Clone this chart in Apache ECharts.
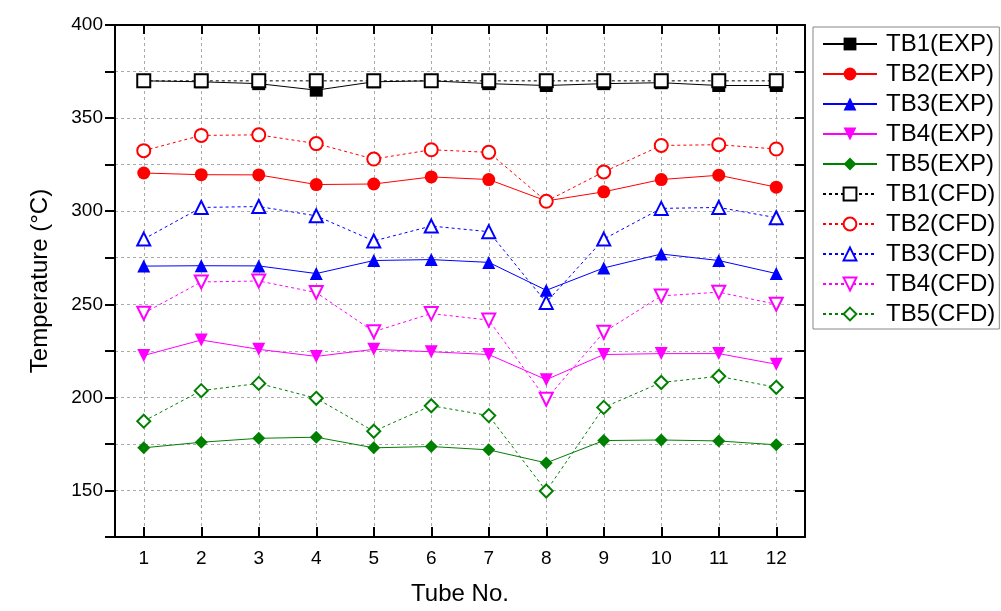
<!DOCTYPE html>
<html>
<head>
<meta charset="utf-8">
<title>Tube temperature</title>
<script src="https://cdn.jsdelivr.net/npm/echarts@6/dist/echarts.min.js"></script>
<style>
  html, body { margin: 0; padding: 0; background: #fff; }
  #chart { width: 1001px; height: 611px; }
</style>
</head>
<body>
<div id="chart"></div>
<script>
// tube numbers on the x axis
const tubes = [1, 2, 3, 4, 5, 6, 7, 8, 9, 10, 11, 12]
const yTicks = [150, 200, 250, 300, 350, 400]

// measured (EXP)
const tb1Exp = [370, 369.5, 368.5, 365, 369.5, 370, 368.5, 367.5, 368.5, 369, 367.5, 367.5]
const tb2Exp = [320.5, 319.6, 319.5, 314.3, 314.6, 318.4, 317, 305.5, 310.4, 317, 319.3, 312.9]
const tb3Exp = [270.5, 270.7, 270.6, 266.5, 273.5, 274, 272.5, 257.5, 269.5, 277, 273.5, 266.5]
const tb4Exp = [222.5, 230.8, 225.8, 222, 225.8, 224.5, 223, 209.5, 223, 223.5, 223.5, 217.8]
const tb5Exp = [172.9, 175.9, 178, 178.6, 172.9, 173.6, 171.8, 164.8, 176.8, 177.1, 176.6, 174.5]

// simulated (CFD)
const tb1Cfd = [370, 370, 370, 370, 370, 370, 370, 370, 370, 370, 370, 370]
const tb2Cfd = [332.5, 340.7, 341, 336.3, 328, 333, 331.6, 305.3, 321.1, 335.3, 335.7, 333.4]
const tb3Cfd = [285, 302, 302.5, 297.5, 284, 292, 289, 251, 285, 301.5, 302, 296.5]
const tb4Cfd = [245.2, 262, 262.5, 256.3, 235.3, 245, 241.5, 199, 235, 254.5, 256.5, 250]
const tb5Cfd = [187.2, 203.6, 207.5, 199.5, 181.8, 195.5, 190.2, 149.7, 194.6, 208, 211.3, 205.4]

const font = 'Arial, "Liberation Sans", sans-serif'

function pairs(vals) {
  return tubes.map((t, i) => [t, vals[i]])
}

function expSeries(name, vals, color, symbol, rotate) {
  return {
    name: name,
    type: 'line',
    data: pairs(vals),
    symbol: symbol,
    symbolSize: 13,
    symbolRotate: rotate || 0,
    itemStyle: { color: color },
    lineStyle: { color: color, width: 1 },
    emphasis: { disabled: true },
  }
}

function cfdSeries(name, vals, color, symbol, rotate) {
  return {
    name: name,
    type: 'line',
    data: pairs(vals),
    symbol: symbol,
    symbolSize: 13,
    symbolRotate: rotate || 0,
    itemStyle: { color: color, borderWidth: 1.2 },
    lineStyle: { color: color, width: 1, type: [3, 3] },
    emphasis: { disabled: true },
  }
}

const chart = echarts.init(document.getElementById('chart'))

const option = {
  backgroundColor: '#fff',
  animation: false,
  grid: { left: 115, top: 25, right: 196, bottom: 73 },
  legend: {
    orient: 'vertical',
    left: 813,
    top: 27,
    padding: [5, 4, 3, 9],
    itemGap: 6,
    itemWidth: 54,
    itemHeight: 16,
    borderColor: '#888',
    borderWidth: 1,
    textStyle: { fontFamily: font, fontSize: 24, lineHeight: 22, color: '#000', padding: [0, 0, 0, 4] },
  },
  xAxis: [
    {
      type: 'value',
      min: 0.5,
      max: 12.5,
      position: 'bottom',
      name: 'Tube No.',
      nameLocation: 'middle',
      nameGap: 45,
      nameTextStyle: { fontFamily: font, fontSize: 24, color: '#000' },
      axisLine: { onZero: false, lineStyle: { color: '#000', width: 2 } },
      axisTick: { inside: true, length: 10, customValues: tubes, lineStyle: { color: '#000', width: 2 } },
      axisLabel: { customValues: tubes, margin: 12, fontFamily: font, fontSize: 19, color: '#000' },
      splitLine: { show: true, lineStyle: { color: '#aaa', width: 1, type: [3, 3] } },
    },
    {
      type: 'value',
      min: 0.5,
      max: 12.5,
      position: 'top',
      axisLine: { onZero: false, lineStyle: { color: '#000', width: 2 } },
      axisTick: { inside: true, length: 9, customValues: tubes, lineStyle: { color: '#000', width: 2 } },
      axisLabel: { show: false },
      splitLine: { show: false },
    },
  ],
  yAxis: [
    {
      type: 'value',
      min: 125,
      max: 400,
      interval: 25,
      position: 'left',
      name: 'Temperature (°C)',
      nameLocation: 'middle',
      nameGap: 63,
      nameTextStyle: { fontFamily: font, fontSize: 24, color: '#000' },
      axisLine: { show: true, onZero: false, lineStyle: { color: '#000', width: 2 } },
      axisTick: { show: true, length: 10, lineStyle: { color: '#000', width: 2 } },
      axisLabel: {
        margin: 12,
        fontFamily: font,
        fontSize: 19,
        color: '#000',
        formatter: v => (yTicks.indexOf(v) >= 0 ? String(v) : ''),
      },
      splitLine: { show: true, lineStyle: { color: '#aaa', width: 1, type: [3, 3] } },
    },
    {
      type: 'value',
      min: 125,
      max: 400,
      interval: 25,
      position: 'right',
      axisLine: { show: true, onZero: false, lineStyle: { color: '#000', width: 2 } },
      axisTick: { show: true, inside: true, length: 10, lineStyle: { color: '#000', width: 2 } },
      axisLabel: { show: false },
      splitLine: { show: false },
    },
  ],
  series: [
    expSeries('TB1(EXP)', tb1Exp, '#000000', 'rect'),
    expSeries('TB2(EXP)', tb2Exp, '#ff0000', 'circle'),
    expSeries('TB3(EXP)', tb3Exp, '#0000ff', 'triangle'),
    expSeries('TB4(EXP)', tb4Exp, '#ff00ff', 'triangle', 180),
    expSeries('TB5(EXP)', tb5Exp, '#008000', 'diamond'),
    cfdSeries('TB1(CFD)', tb1Cfd, '#000000', 'emptyRect'),
    cfdSeries('TB2(CFD)', tb2Cfd, '#ff0000', 'emptyCircle'),
    cfdSeries('TB3(CFD)', tb3Cfd, '#0000ff', 'emptyTriangle'),
    cfdSeries('TB4(CFD)', tb4Cfd, '#ff00ff', 'emptyTriangle', 180),
    cfdSeries('TB5(CFD)', tb5Cfd, '#008000', 'emptyDiamond'),
  ],
}

chart.setOption(option)
</script>
</body>
</html>
